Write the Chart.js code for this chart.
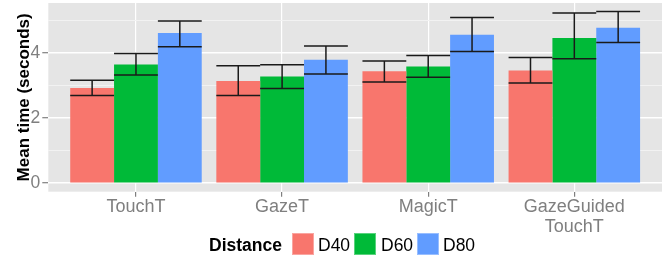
<!DOCTYPE html>
<html>
<head>
<meta charset="utf-8">
<script src="https://cdn.jsdelivr.net/npm/chart.js@4/dist/chart.umd.min.js"></script>
<style>
  html, body { margin: 0; padding: 0; background: #fff; }
  #wrap { position: relative; width: 665px; height: 258px; overflow: hidden; }
  #c { position: absolute; left: 0; top: 0; }
  .lg { position: absolute; font-family: "Liberation Sans", Arial, sans-serif; font-size: 17.5px; color: #000; line-height: 22px; white-space: nowrap; }
  .lgb { position: absolute; width: 22px; height: 22px; box-sizing: border-box; border: 1px solid rgba(255,255,255,0.35); }
</style>
</head>
<body>
<div id="wrap">
  <canvas id="c" width="665" height="258"></canvas>
  <div class="lg" id="lt" style="left:209px; top:234px; font-weight:bold;"></div>
  <div class="lgb" id="b0" style="left:292px; top:233px;"></div>
  <div class="lg" id="t0" style="left:318px; top:234px;"></div>
  <div class="lgb" id="b1" style="left:354px; top:233px;"></div>
  <div class="lg" id="t1" style="left:381px; top:234px;"></div>
  <div class="lgb" id="b2" style="left:417px; top:233px;"></div>
  <div class="lg" id="t2" style="left:443px; top:234px;"></div>
</div>
<script>
// ---- data ----
const categories = [["TouchT"], ["GazeT"], ["MagicT"], ["GazeGuided", "TouchT"]];
const seriesNames = ["D40", "D60", "D80"];
const seriesColors = ["#F8766D", "#00BA38", "#619CFF"];
const d40 = [2.93, 3.14, 3.44, 3.47];
const d60 = [3.65, 3.28, 3.59, 4.47];
const d80 = [4.62, 3.80, 4.57, 4.78];
const d40Low = [2.70, 2.70, 3.11, 3.08];
const d40High = [3.17, 3.61, 3.76, 3.87];
const d60Low = [3.33, 2.91, 3.26, 3.83];
const d60High = [3.99, 3.64, 3.93, 5.24];
const d80Low = [4.20, 3.36, 4.05, 4.33];
const d80High = [4.99, 4.22, 5.10, 5.28];
const yTicks = [0, 1, 2, 3, 4, 5];
const yTickLabels = ["0", "", "2", "", "4", ""];
const yTitle = "Mean time (seconds)";
const legendTitle = "Distance";

const seriesValues = [d40, d60, d80];
const seriesLow = [d40Low, d60Low, d80Low];
const seriesHigh = [d40High, d60High, d80High];

// legend text
document.getElementById('lt').textContent = legendTitle;
seriesNames.forEach((n, i) => {
  document.getElementById('t' + i).textContent = n;
  document.getElementById('b' + i).style.background = seriesColors[i];
});

const panelBg = {
  id: 'panelBg',
  beforeDraw(chart) {
    const a = chart.chartArea, ctx = chart.ctx;
    ctx.save();
    ctx.fillStyle = '#E5E5E5';
    ctx.fillRect(a.left, a.top, a.right - a.left, a.bottom - a.top);
    ctx.restore();
  }
};

const errorBars = {
  id: 'errorBars',
  afterDatasetsDraw(chart) {
    const ctx = chart.ctx, ys = chart.scales.y;
    ctx.save();
    ctx.strokeStyle = '#1a1a1a';
    ctx.lineWidth = 1.5;
    chart.data.datasets.forEach((ds, di) => {
      const meta = chart.getDatasetMeta(di);
      meta.data.forEach((bar, i) => {
        const props = bar.getProps(['x', 'width'], true);
        const x0 = props.x - props.width / 2, x1 = props.x + props.width / 2;
        const yl = ys.getPixelForValue(seriesLow[di][i]);
        const yh = ys.getPixelForValue(seriesHigh[di][i]);
        ctx.beginPath();
        ctx.moveTo(x0, yh); ctx.lineTo(x1, yh);
        ctx.moveTo(x0, yl); ctx.lineTo(x1, yl);
        ctx.moveTo(props.x, yh); ctx.lineTo(props.x, yl);
        ctx.stroke();
      });
    });
    ctx.restore();
  }
};

const datasets = seriesNames.map((n, si) => ({
  label: n,
  data: seriesValues[si].map((v, i) => ({ x: i, y: v })),
  backgroundColor: seriesColors[si],
  borderWidth: 0,
  categoryPercentage: 0.9,
  barPercentage: 1.0
}));

new Chart(document.getElementById('c'), {
  type: 'bar',
  data: { datasets },
  plugins: [panelBg, errorBars],
  options: {
    responsive: false,
    animation: false,
    devicePixelRatio: 1,
    layout: { padding: { left: 0, right: 3, top: 3, bottom: 0 } },
    plugins: { legend: { display: false }, tooltip: { enabled: false } },
    scales: {
      x: {
        type: 'linear',
        offset: false,
        min: -0.6,
        max: categories.length - 1 + 0.6,
        afterBuildTicks(scale) { scale.ticks = categories.map((c, i) => ({ value: i })); },
        afterFit(scale) { scale.height = 66.3; scale.paddingLeft = 0; scale.paddingRight = 0; },
        border: { display: false },
        grid: { offset: false, color: '#FFFFFF', lineWidth: 1.2, tickColor: '#7F7F7F', tickLength: 5, tickWidth: 1.2 },
        ticks: {
          autoSkip: false,
          maxRotation: 0,
          padding: 0,
          color: '#7F7F7F',
          font: { family: '"Liberation Sans", Arial, sans-serif', size: 18, lineHeight: 1.12 },
          callback: (v) => categories[Math.round(v)]
        }
      },
      y: {
        min: -0.264,
        max: 5.544,
        afterBuildTicks(scale) { scale.ticks = yTicks.map(v => ({ value: v })); },
        afterFit(scale) { scale.width = 48.3; scale.paddingTop = 0; scale.paddingBottom = 0; },
        border: { display: false },
        grid: {
          color: (c) => (c.tick && c.tick.value % 2 === 0) ? '#FFFFFF' : '#F2F2F2',
          lineWidth: (c) => (c.tick && c.tick.value % 2 === 0) ? 1.4 : 1,
          tickColor: (c) => (c.tick && c.tick.value % 2 === 0) ? '#7F7F7F' : 'rgba(0,0,0,0)',
          tickLength: 6,
          tickWidth: 1.2
        },
        ticks: {
          padding: 2,
          color: '#7F7F7F',
          font: { family: '"Liberation Sans", Arial, sans-serif', size: 17.5 },
          callback: (v) => yTickLabels[yTicks.indexOf(v)]
        },
        title: {
          display: true,
          text: yTitle,
          color: '#000',
          padding: { top: 14, bottom: 0 },
          font: { family: '"Liberation Sans", Arial, sans-serif', size: 17, weight: 'bold' }
        }
      }
    }
  }
});
</script>
</body>
</html>
